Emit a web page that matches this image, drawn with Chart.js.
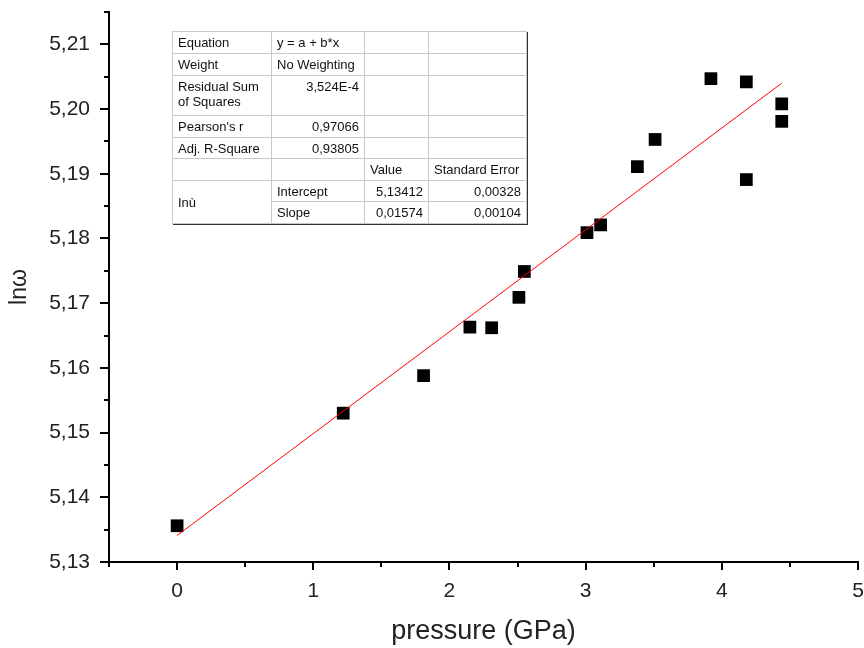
<!DOCTYPE html>
<html lang="en">
<head>
    <meta charset="UTF-8">
    <title>ln omega vs pressure</title>
    <script src="https://cdn.jsdelivr.net/npm/chart.js"></script>
    <style>
        body { margin: 0; background: #fff; }
        #wrap { position: relative; width: 864px; height: 648px; }
        #fitTable {
            position: absolute; left: 172px; top: 31px;
            border-collapse: collapse; table-layout: fixed;
            font-family: "Liberation Sans", Arial, sans-serif; font-size: 13px; line-height: 15px;
            color: #111; background: #fff;
            border: 1px solid #000; box-shadow: 1px 1px 0 #333;
        }
        #fitTable td { border: 1px solid #c8c8c8; padding: 0 5px; white-space: nowrap; vertical-align: middle; }
        #fitTable td.r { text-align: right; }
        #fitTable tr.tall td { vertical-align: top; padding-top: 3px; }
    </style>
</head>
<body>
<div id="wrap">
    <canvas id="myChart" width="864" height="648"></canvas>
    <table id="fitTable">
        <colgroup><col style="width:99px"><col style="width:93px"><col style="width:64px"><col style="width:98px"></colgroup>
        <tr style="height:22px"><td>Equation</td><td>y = a + b*x</td><td></td><td></td></tr>
        <tr style="height:22px"><td>Weight</td><td>No Weighting</td><td></td><td></td></tr>
        <tr class="tall" style="height:40px"><td>Residual Sum<br>of Squares</td><td class="r">3,524E-4</td><td></td><td></td></tr>
        <tr style="height:22px"><td>Pearson's r</td><td class="r">0,97066</td><td></td><td></td></tr>
        <tr style="height:21px"><td>Adj. R-Square</td><td class="r">0,93805</td><td></td><td></td></tr>
        <tr style="height:22px"><td></td><td></td><td>Value</td><td>Standard Error</td></tr>
        <tr style="height:21px"><td rowspan="2">Inù</td><td>Intercept</td><td class="r">5,13412</td><td class="r">0,00328</td></tr>
        <tr style="height:22px"><td>Slope</td><td class="r">0,01574</td><td class="r">0,00104</td></tr>
    </table>
</div>
<script>
    // measured points
    var pressure = [0, 1.22, 1.81, 2.15, 2.31, 2.51, 2.55, 3.01, 3.11, 3.38, 3.51, 3.92, 4.18, 4.18, 4.44, 4.44];
    var lnw = [5.1356, 5.1530, 5.1588, 5.1663, 5.1662, 5.1709, 5.1749, 5.1809, 5.1821, 5.1911, 5.1953, 5.2047, 5.2042, 5.1891, 5.2008, 5.1981];
    // linear fit end points
    var fitX = [0, 4.44];
    var fitY = [5.1341, 5.2040];
    var xTicks = [0, 1, 2, 3, 4, 5];
    var yTicks = [5.13, 5.14, 5.15, 5.16, 5.17, 5.18, 5.19, 5.20, 5.21];

    var FONT = '"Liberation Sans", Arial, sans-serif';

    function isMajor(v, list) {
        return list.some(function (t) { return Math.abs(t - v) < 1e-7; });
    }

    // outward major/minor tick marks like the original plot
    var tickMarks = {
        id: 'tickMarks',
        afterDraw: function (chart) {
            var ctx = chart.ctx;
            var xs = chart.scales.x, ys = chart.scales.y;
            var area = chart.chartArea;
            ctx.save();
            ctx.strokeStyle = '#000';
            ctx.lineWidth = 2;
            ctx.beginPath();
            for (var i = 0; i <= 11; i++) {
                var xv = -0.5 + i * 0.5;
                var px = Math.round(xs.getPixelForValue(xv));
                var len = isMajor(xv, xTicks) ? 8 : 5;
                ctx.moveTo(px, area.bottom);
                ctx.lineTo(px, area.bottom + len);
            }
            for (var j = 0; j <= 17; j++) {
                var yv = 5.13 + j * 0.005;
                var py = Math.round(ys.getPixelForValue(yv));
                var len2 = isMajor(yv, yTicks) ? 9 : 5;
                ctx.moveTo(area.left, py);
                ctx.lineTo(area.left - len2, py);
            }
            ctx.stroke();
            ctx.restore();
        }
    };

    var ctx = document.getElementById('myChart').getContext('2d');
    new Chart(ctx, {
        type: 'scatter',
        data: {
            datasets: [{
                label: 'fit',
                data: fitX.map(function (x, i) { return { x: x, y: fitY[i] }; }),
                showLine: true,
                borderColor: '#ff0000',
                borderWidth: 1,
                pointRadius: 0
            }, {
                label: 'ln w',
                data: pressure.map(function (x, i) { return { x: x, y: lnw[i] }; }),
                pointStyle: 'rect',
                pointRadius: 9,
                backgroundColor: '#000',
                borderWidth: 0
            }]
        },
        options: {
            responsive: false,
            animation: false,
            devicePixelRatio: 1,
            layout: { autoPadding: false, padding: { top: 12, right: 6, left: 0, bottom: 0 } },
            plugins: { legend: { display: false }, tooltip: { enabled: false } },
            scales: {
                x: {
                    type: 'linear',
                    min: -0.5, max: 5,
                    grid: { display: false, drawTicks: false },
                    border: { display: true, color: '#000', width: 2 },
                    ticks: {
                        stepSize: 0.5, autoSkip: false, maxRotation: 0, padding: 17,
                        color: '#222', font: { family: FONT, size: 21 },
                        callback: function (v) { return isMajor(v, xTicks) ? String(Math.round(v)) : ''; }
                    },
                    title: { display: true, text: 'pressure (GPa)', color: '#222', font: { family: FONT, size: 27 }, padding: { top: 0, bottom: 0 } },
                    afterFit: function (s) { s.height = 86; s.paddingLeft = 0; s.paddingRight = 0; }
                },
                y: {
                    type: 'linear',
                    min: 5.13, max: 5.215,
                    grid: { display: false, drawTicks: false },
                    border: { display: true, color: '#000', width: 2 },
                    ticks: {
                        stepSize: 0.005, autoSkip: false, padding: 19,
                        color: '#222', font: { family: FONT, size: 21 },
                        callback: function (v) { return isMajor(v, yTicks) ? v.toFixed(2).replace('.', ',') : ''; }
                    },
                    title: { display: true, text: 'lnω', color: '#222', font: { family: FONT, size: 23 }, padding: { top: 6, bottom: 0 } },
                    afterFit: function (s) { s.width = 109; s.paddingTop = 0; s.paddingBottom = 0; }
                }
            }
        },
        plugins: [tickMarks]
    });
</script>
</body>
</html>
